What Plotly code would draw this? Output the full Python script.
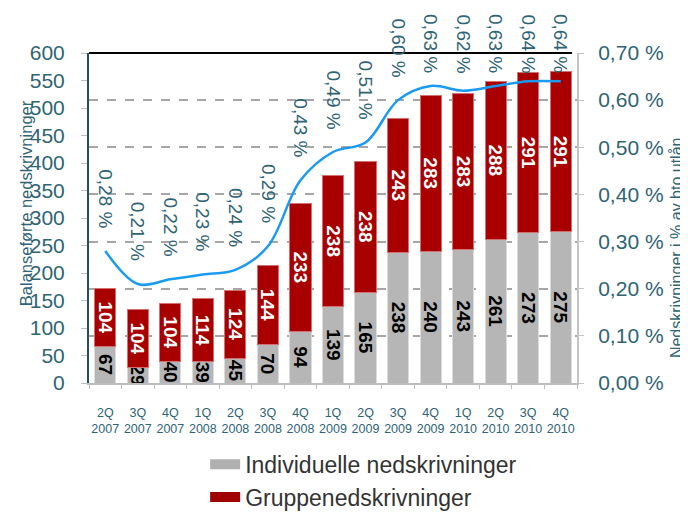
import plotly.graph_objects as go

categories = ["2Q<br>2007", "3Q<br>2007", "4Q<br>2007", "1Q<br>2008", "2Q<br>2008",
              "3Q<br>2008", "4Q<br>2008", "1Q<br>2009", "2Q<br>2009", "3Q<br>2009",
              "4Q<br>2009", "1Q<br>2010", "2Q<br>2010", "3Q<br>2010", "4Q<br>2010"]
individuelle = [67, 29, 40, 39, 45, 70, 94, 139, 165, 238, 240, 243, 261, 273, 275]
gruppe = [104, 104, 104, 114, 124, 144, 233, 238, 238, 243, 283, 283, 288, 291, 291]
pct = [0.28, 0.21, 0.22, 0.23, 0.24, 0.29, 0.43, 0.49, 0.51, 0.60, 0.63, 0.62, 0.63, 0.64, 0.64]
pct_labels = ["0,28 %", "0,21 %", "0,22 %", "0,23 %", "0,24 %", "0,29 %", "0,43 %", "0,49 %",
              "0,51 %", "0,60 %", "0,63 %", "0,62 %", "0,63 %", "0,64 %", "0,64 %"]
left_ticks = list(range(0, 601, 50))
right_ticks = [0.0, 0.1, 0.2, 0.3, 0.4, 0.5, 0.6, 0.7]
right_ticktext = ["0,00 %", "0,10 %", "0,20 %", "0,30 %", "0,40 %", "0,50 %", "0,60 %", "0,70 %"]

TEAL = "#2f6474"
GRAY_BAR = "#b6b6b6"
RED_BAR = "#a80000"
FONT = "Liberation Sans, Arial, sans-serif"

fig = go.Figure()
fig.add_trace(go.Bar(
    x=categories, y=individuelle, name="Individuelle nedskrivninger",
    marker=dict(color=GRAY_BAR, line=dict(color="#dcdcdc", width=1)),
    text=[str(v) for v in individuelle], textposition="inside", insidetextanchor="middle",
    textangle=90, textfont=dict(color="black", size=19, family=FONT, weight="bold"),
    showlegend=False, yaxis="y", cliponaxis=False,
))
fig.add_trace(go.Bar(
    x=categories, y=gruppe, name="Gruppenedskrivninger",
    marker=dict(color=RED_BAR, line=dict(color="#d47070", width=1)),
    text=[str(v) for v in gruppe], textposition="inside", insidetextanchor="middle",
    textangle=90, textfont=dict(color="white", size=19, family=FONT, weight="bold"),
    showlegend=False, yaxis="y", cliponaxis=False,
))
fig.add_trace(go.Scatter(
    x=categories, y=pct, mode="lines", line=dict(color="#1a9af0", width=2.5, shape="spline", smoothing=1.0),
    yaxis="y2", showlegend=False, hoverinfo="skip",
))
# legend proxies
fig.add_trace(go.Scatter(x=[None], y=[None], mode="lines", name="Individuelle nedskrivninger",
                         line=dict(color="#b0b0b0", width=10), showlegend=True, legendgroup="a"))
fig.add_trace(go.Scatter(x=[None], y=[None], mode="lines", name="Gruppenedskrivninger",
                         line=dict(color="#a00000", width=10), showlegend=True, legendgroup="b"))

# label placement: just above the line value, kept below the top of the figure
LABEL_GAP = 0.0445
LABEL_CAP = 0.653
annotations = []
for c, v, t in zip(categories, pct, pct_labels):
    annotations.append(dict(x=c, y=min(v + LABEL_GAP, LABEL_CAP), xref="x", yref="y2", text=t,
                            showarrow=False, textangle=90, yanchor="bottom", xanchor="center",
                            font=dict(color=TEAL, size=19, family=FONT)))
annotations.append(dict(x=-0.129, y=0.545, xref="paper", yref="paper", text="Balanseførte nedskrivninger",
                        xanchor="center", yanchor="middle",
                        showarrow=False, textangle=-90, font=dict(color=TEAL, size=16.5, family=FONT)))
annotations.append(dict(x=1.203, y=0.409, xref="paper", yref="paper", text="Nedskrivninger i % av bto utlån",
                        xanchor="center", yanchor="middle",
                        showarrow=False, textangle=-90, font=dict(color=TEAL, size=16, family=FONT)))

fig.update_layout(
    width=680, height=504,
    margin=dict(l=81, r=111, t=45, b=129, autoexpand=False),
    paper_bgcolor="white", plot_bgcolor="white",
    barmode="stack", bargap=0.35,
    uniformtext=dict(minsize=19, mode="show"),
    font=dict(family=FONT, color=TEAL),
    xaxis=dict(type="category", showline=True, linecolor="#bdbdbd", linewidth=2,
               ticks="outside", tickson="boundaries", ticklen=4, tickcolor="#bdbdbd",
               tickangle=0, automargin=False,
               tickfont=dict(size=12.5, color=TEAL), ticklabelstandoff=17, showgrid=False),
    yaxis=dict(range=[0, 600], tickvals=left_ticks, showgrid=False, zeroline=False,
               showline=True, linecolor="#24505e", linewidth=2, automargin=False,
               ticks="outside", ticklen=6, tickcolor="#bdbdbd",
               tickfont=dict(size=21, color=TEAL), ticklabelstandoff=12),
    yaxis2=dict(range=[0, 0.7], overlaying="y", side="right", tickvals=right_ticks,
                ticktext=right_ticktext, showgrid=True, gridcolor="#a6a6a6", gridwidth=2,
                griddash="dash", zeroline=False, showline=True, linecolor="#c4c4c4", linewidth=2,
                ticks="outside", ticklen=5, tickcolor="#c4c4c4", automargin=False,
                tickfont=dict(size=21, color=TEAL), ticklabelstandoff=10),
    legend=dict(x=0.238, y=-0.181, xanchor="left", yanchor="top", orientation="v",
                font=dict(size=23, color="#333333", family=FONT), tracegroupgap=0,
                traceorder="normal", bgcolor="rgba(0,0,0,0)"),
    annotations=annotations,
    shapes=[dict(type="line", xref="paper", yref="paper", x0=0, x1=0.99, y0=1, y1=1,
                 line=dict(color="black", width=2))],
)

fig.write_html("out.html")
